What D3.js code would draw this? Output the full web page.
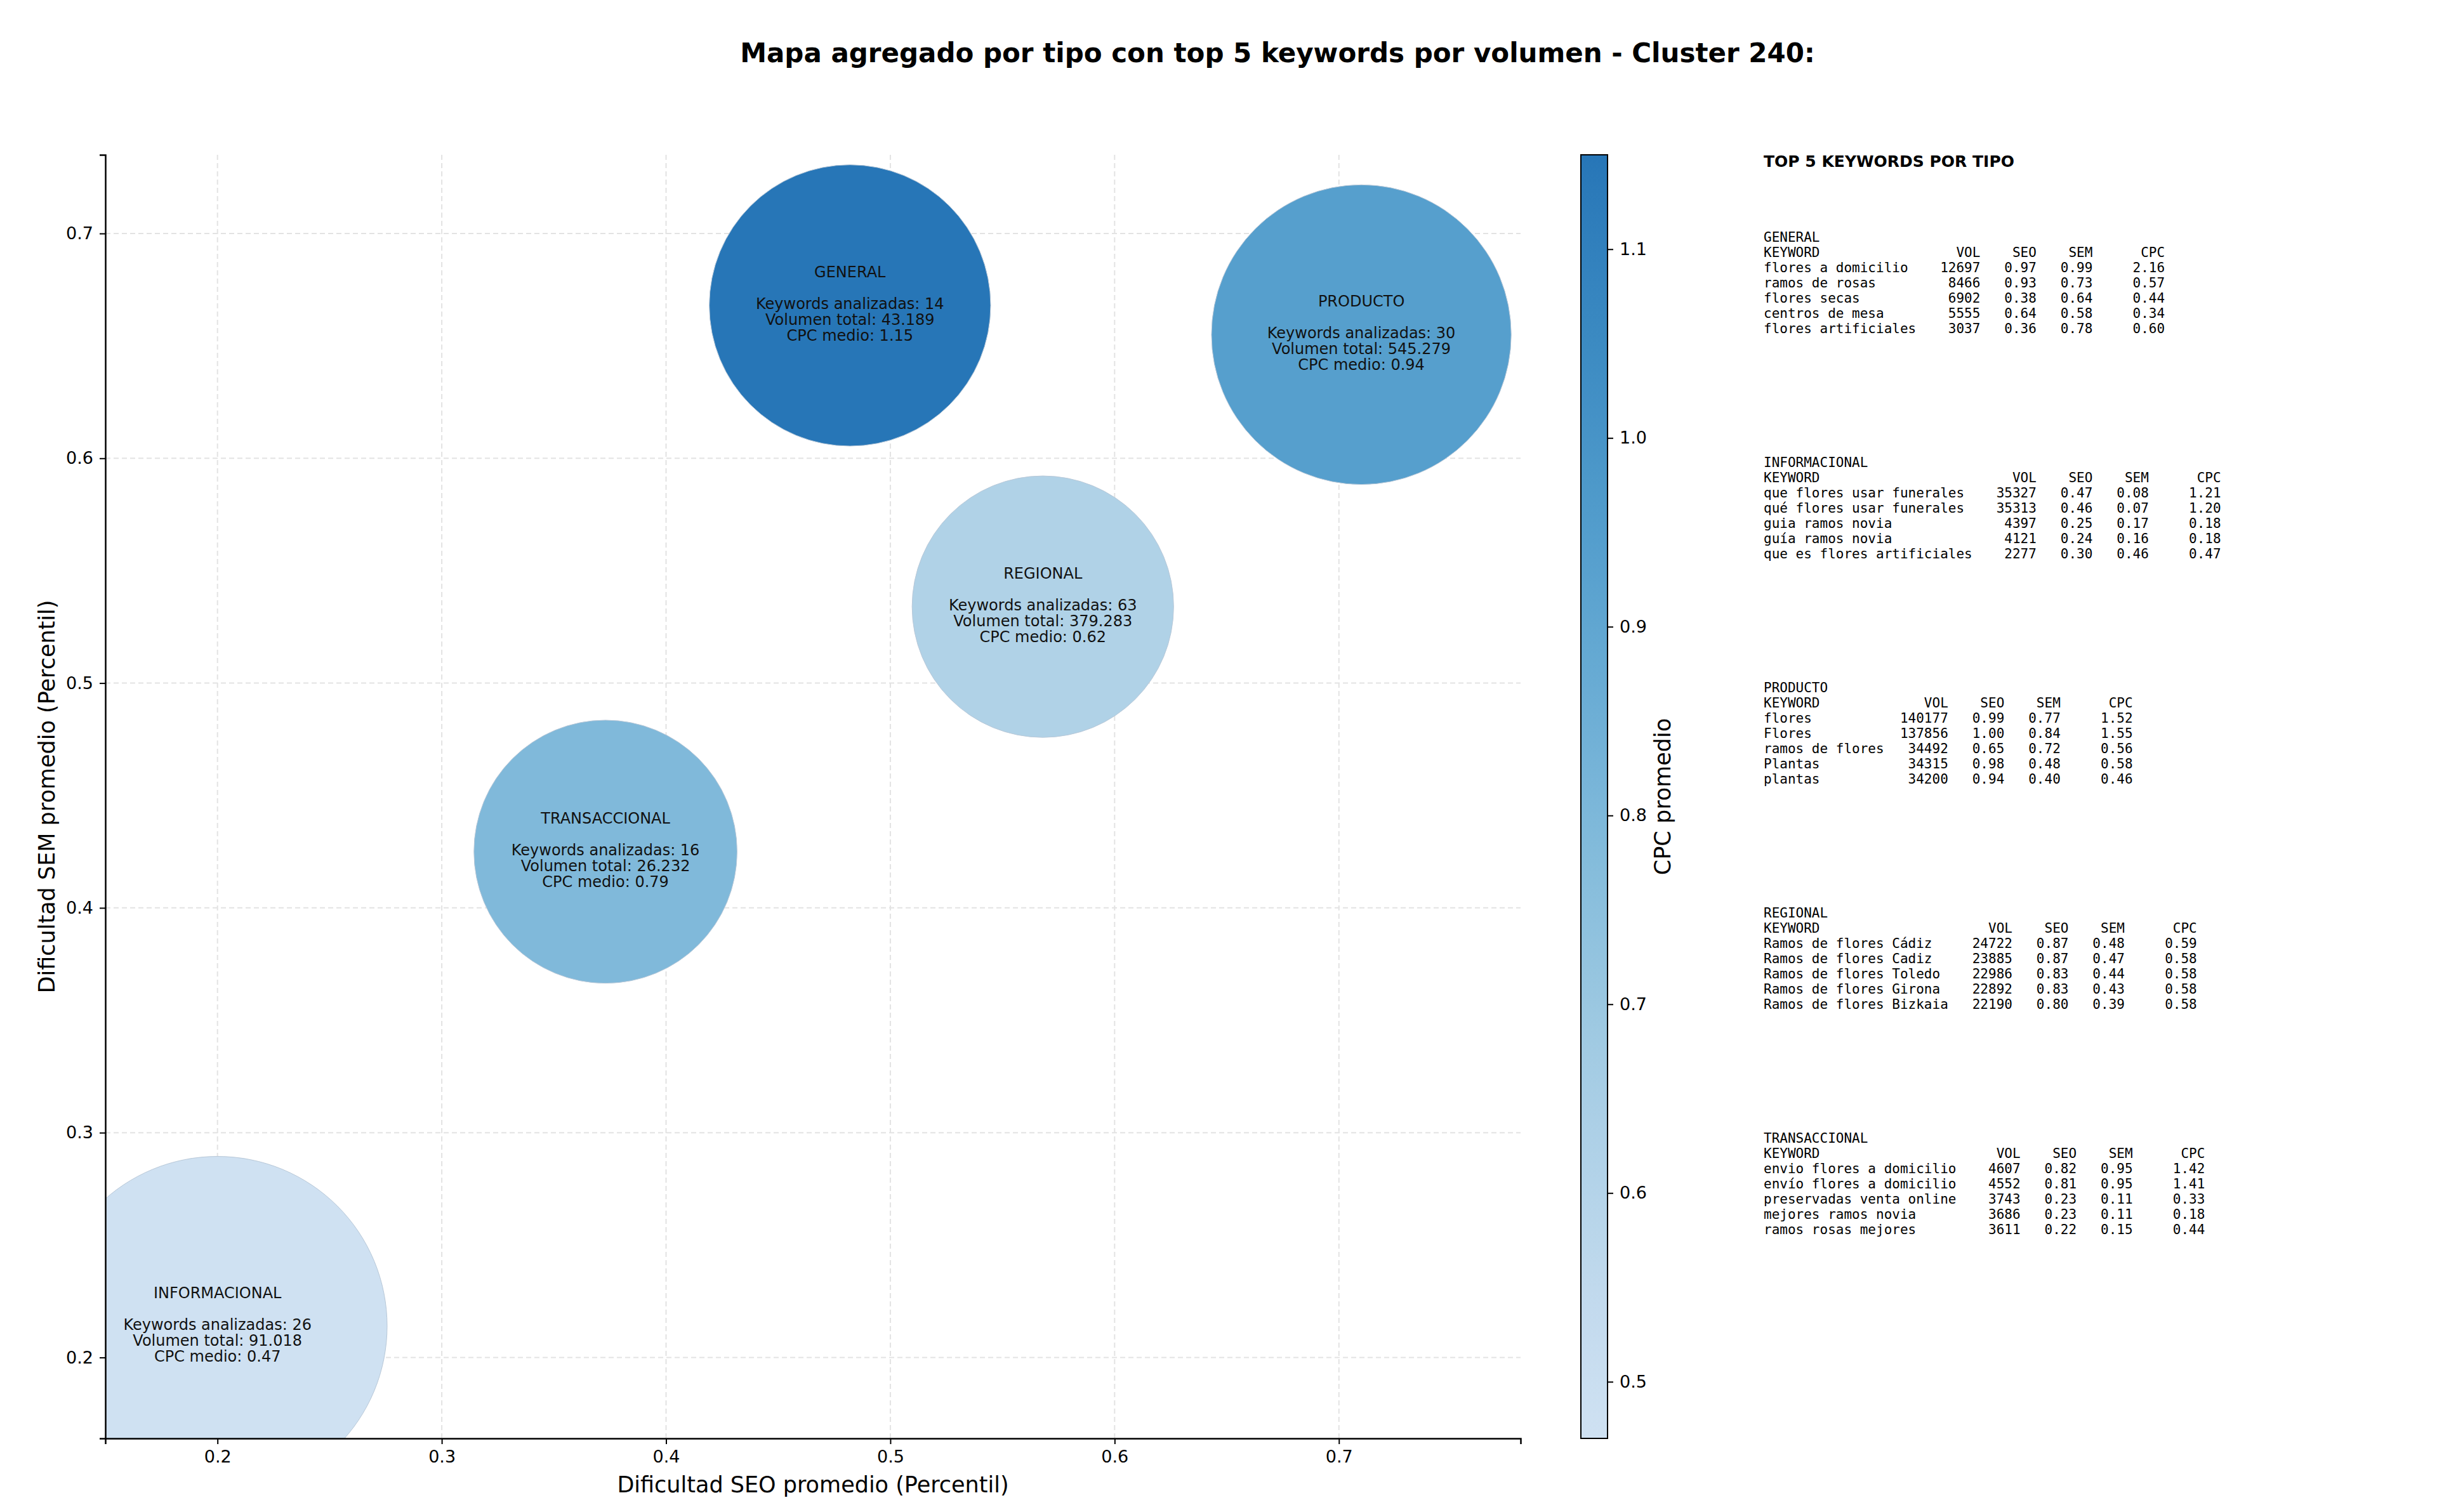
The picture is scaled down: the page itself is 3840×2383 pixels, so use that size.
<!DOCTYPE html>
<html lang="en">
<head>
<meta charset="UTF-8">
<title>Cluster 240</title>
<script src="https://d3js.org/d3.v7.min.js"></script>
<style>
  body { margin: 0; background: #fff; }
  text { font-family: "DejaVu Sans", sans-serif; }
  .mono { font-family: "DejaVu Sans Mono", monospace; white-space: pre; }
</style>
</head>
<body>
<div id="chart"></div>
<script>
// bubble data
const types = ["GENERAL", "PRODUCTO", "REGIONAL", "TRANSACCIONAL", "INFORMACIONAL"];
const seoAvg = [0.482, 0.710, 0.568, 0.373, 0.200];
const semAvg = [0.668, 0.655, 0.534, 0.425, 0.214];
const cpcAvg = [1.15, 0.94, 0.62, 0.79, 0.47];
const kwCount = [14, 30, 63, 16, 26];
const volTotal = ["43.189", "545.279", "379.283", "26.232", "91.018"];
const bubbleSize = [8460, 9600, 7310, 7400, 12300]; // marker area

const xTicks = [0.2, 0.3, 0.4, 0.5, 0.6, 0.7];
const yTicks = [0.2, 0.3, 0.4, 0.5, 0.6, 0.7];
const cbTicks = [0.5, 0.6, 0.7, 0.8, 0.9, 1.0, 1.1];

// top 5 tables
const tableOrder = ["GENERAL", "INFORMACIONAL", "PRODUCTO", "REGIONAL", "TRANSACCIONAL"];
const topKeywords = {
  GENERAL: [["flores a domicilio", 12697, 0.97, 0.99, 2.16], ["ramos de rosas", 8466, 0.93, 0.73, 0.57],
    ["flores secas", 6902, 0.38, 0.64, 0.44], ["centros de mesa", 5555, 0.64, 0.58, 0.34],
    ["flores artificiales", 3037, 0.36, 0.78, 0.60]],
  INFORMACIONAL: [["que flores usar funerales", 35327, 0.47, 0.08, 1.21], ["qué flores usar funerales", 35313, 0.46, 0.07, 1.20],
    ["guia ramos novia", 4397, 0.25, 0.17, 0.18], ["guía ramos novia", 4121, 0.24, 0.16, 0.18],
    ["que es flores artificiales", 2277, 0.30, 0.46, 0.47]],
  PRODUCTO: [["flores", 140177, 0.99, 0.77, 1.52], ["Flores", 137856, 1.00, 0.84, 1.55],
    ["ramos de flores", 34492, 0.65, 0.72, 0.56], ["Plantas", 34315, 0.98, 0.48, 0.58],
    ["plantas", 34200, 0.94, 0.40, 0.46]],
  REGIONAL: [["Ramos de flores Cádiz", 24722, 0.87, 0.48, 0.59], ["Ramos de flores Cadiz", 23885, 0.87, 0.47, 0.58],
    ["Ramos de flores Toledo", 22986, 0.83, 0.44, 0.58], ["Ramos de flores Girona", 22892, 0.83, 0.43, 0.58],
    ["Ramos de flores Bizkaia", 22190, 0.80, 0.39, 0.58]],
  TRANSACCIONAL: [["envio flores a domicilio", 4607, 0.82, 0.95, 1.42], ["envío flores a domicilio", 4552, 0.81, 0.95, 1.41],
    ["preservadas venta online", 3743, 0.23, 0.11, 0.33], ["mejores ramos novia", 3686, 0.23, 0.11, 0.18],
    ["ramos rosas mejores", 3611, 0.22, 0.15, 0.44]]
};

const W = 3840, H = 2383;
const m = { left: 166, right: 2396, top: 244, bottom: 2267 };

const svg = d3.select("#chart").append("svg").attr("width", W).attr("height", H);

const x = d3.scaleLinear().domain([0.15, 0.781]).range([m.left, m.right]);
const y = d3.scaleLinear().domain([0.164, 0.735]).range([m.bottom, m.top]);
const r = d3.scaleSqrt().domain([0, 10000]).range([0, 241]);
const cDomain = [0.47, 1.15];
const color = v => d3.interpolateBlues(0.2 + 0.53 * (v - cDomain[0]) / (cDomain[1] - cDomain[0]));

svg.append("text").attr("x", 2013).attr("y", 98).attr("text-anchor", "middle")
  .attr("font-size", 42).attr("font-weight", "bold")
  .text("Mapa agregado por tipo con top 5 keywords por volumen - Cluster 240:");

// grid
const grid = svg.append("g").attr("stroke", "#e3e3e3").attr("stroke-width", 2).attr("stroke-dasharray", "8,5");
grid.selectAll(".gx").data(xTicks).enter().append("line")
  .attr("x1", d => x(d)).attr("x2", d => x(d)).attr("y1", m.top).attr("y2", m.bottom);
grid.selectAll(".gy").data(yTicks).enter().append("line")
  .attr("y1", d => y(d)).attr("y2", d => y(d)).attr("x1", m.left).attr("x2", m.right);

svg.append("clipPath").attr("id", "clip").append("rect")
  .attr("x", m.left).attr("y", m.top).attr("width", m.right - m.left).attr("height", m.bottom - m.top);

const idx = d3.range(types.length);
const bubbles = svg.append("g").attr("clip-path", "url(#clip)");
bubbles.selectAll("circle").data(idx).enter().append("circle")
  .attr("cx", i => x(seoAvg[i])).attr("cy", i => y(semAvg[i])).attr("r", i => r(bubbleSize[i]))
  .attr("fill", i => color(cpcAvg[i])).attr("stroke", "#b8c8d8").attr("stroke-width", 1);

const labels = bubbles.selectAll("text").data(idx).enter().append("text")
  .attr("text-anchor", "middle").attr("font-size", 24).attr("fill", "#111");
labels.each(function (i) {
  const lines = [types[i], "", "Keywords analizadas: " + kwCount[i], "Volumen total: " + volTotal[i],
    "CPC medio: " + cpcAvg[i].toFixed(2)];
  const t = d3.select(this);
  lines.forEach((l, k) => {
    t.append("tspan").attr("x", x(seoAvg[i])).attr("y", y(semAvg[i]) + (k - 2) * 25 + 6).text(l);
  });
});

// axes
const xAxis = svg.append("g").attr("transform", `translate(0,${m.bottom})`)
  .call(d3.axisBottom(x).tickValues(xTicks).tickFormat(d3.format(".1f")).tickSize(9).tickPadding(10));
const yAxis = svg.append("g").attr("transform", `translate(${m.left},0)`)
  .call(d3.axisLeft(y).tickValues(yTicks).tickFormat(d3.format(".1f")).tickSize(9).tickPadding(10));
[xAxis, yAxis].forEach(a => {
  a.selectAll("text").attr("font-size", 27).attr("font-family", "DejaVu Sans").attr("fill", "#000");
  a.selectAll("line").attr("stroke-width", 2);
  a.select(".domain").attr("stroke-width", 2.5);
});

svg.append("text").attr("x", (m.left + m.right) / 2).attr("y", 2352).attr("text-anchor", "middle")
  .attr("font-size", 35).text("Dificultad SEO promedio (Percentil)");
svg.append("text").attr("transform", `translate(86,${(m.top + m.bottom) / 2}) rotate(-90)`)
  .attr("text-anchor", "middle").attr("font-size", 35).text("Dificultad SEM promedio (Percentil)");

// colorbar
const cb = { x: 2491, w: 42 };
const cy = d3.scaleLinear().domain(cDomain).range([m.bottom, m.top]);
const grad = svg.append("defs").append("linearGradient").attr("id", "cbgrad")
  .attr("x1", 0).attr("x2", 0).attr("y1", 1).attr("y2", 0);
d3.range(0, 1.001, 0.05).forEach(t => {
  grad.append("stop").attr("offset", t).attr("stop-color", color(cDomain[0] + t * (cDomain[1] - cDomain[0])));
});
svg.append("rect").attr("x", cb.x).attr("y", m.top).attr("width", cb.w).attr("height", m.bottom - m.top)
  .attr("fill", "url(#cbgrad)").attr("stroke", "#000").attr("stroke-width", 2);
const cbAxis = svg.append("g").attr("transform", `translate(${cb.x + cb.w},0)`)
  .call(d3.axisRight(cy).tickValues(cbTicks).tickFormat(d3.format(".1f")).tickSize(9).tickPadding(10));
cbAxis.select(".domain").remove();
cbAxis.selectAll("text").attr("font-size", 27).attr("font-family", "DejaVu Sans").attr("fill", "#000");
cbAxis.selectAll("line").attr("stroke-width", 2);
svg.append("text").attr("transform", `translate(2632,${(m.top + m.bottom) / 2}) rotate(-90)`)
  .attr("text-anchor", "middle").attr("font-size", 35).text("CPC promedio");

// keyword tables
const tx = 2779;
svg.append("text").attr("x", tx).attr("y", 263).attr("font-size", 25).attr("font-weight", "bold")
  .text("TOP 5 KEYWORDS POR TIPO");
tableOrder.forEach((tp, s) => {
  const rows = topKeywords[tp];
  const w = d3.max(rows, d => d[0].length) + 2;
  const lines = [tp, "KEYWORD".padEnd(w) + "VOL".padStart(6) + "SEO".padStart(7) + "SEM".padStart(7) + "CPC".padStart(9)]
    .concat(rows.map(d => d[0].padEnd(w) + String(d[1]).padStart(6) + d[2].toFixed(2).padStart(7) +
      d[3].toFixed(2).padStart(7) + d[4].toFixed(2).padStart(9)));
  const t = svg.append("text").attr("class", "mono").attr("font-size", 21).attr("xml:space", "preserve");
  lines.forEach((l, k) => {
    t.append("tspan").attr("x", tx).attr("y", 381 + s * 355 + k * 24).text(l);
  });
});
</script>
</body>
</html>
